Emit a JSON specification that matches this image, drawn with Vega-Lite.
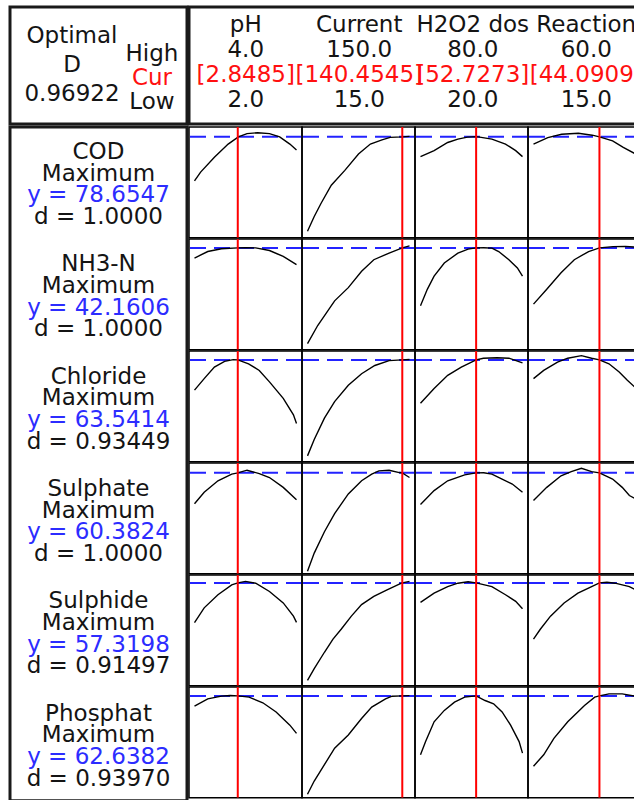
{
  "$schema": "https://vega.github.io/schema/vega-lite/v6.json",
  "background": "white",
  "padding": {"left": 8, "top": 5, "right": 0, "bottom": 0},
  "config": {"font": "DejaVu Sans", "view": {"stroke": "#000"}, "text": {"font": "DejaVu Sans", "fontSize": 23}},
  "datasets": {
    "hdrL": [
      {"col": "a", "line": 1, "text": "Optimal", "tone": "k"},
      {"col": "a", "line": 2, "text": "D", "tone": "k"},
      {"col": "a", "line": 3, "text": "0.96922", "tone": "k"},
      {"col": "b", "line": 1, "text": "High", "tone": "k"},
      {"col": "b", "line": 2, "text": "Cur", "tone": "r"},
      {"col": "b", "line": 3, "text": "Low", "tone": "k"}
    ],
    "hdr": [
      {"factor": "pH", "line": 1, "text": "pH", "tone": "k"},
      {"factor": "pH", "line": 2, "text": "4.0", "tone": "k"},
      {"factor": "pH", "line": 3, "text": "[2.8485]", "tone": "r"},
      {"factor": "pH", "line": 4, "text": "2.0", "tone": "k"},
      {"factor": "Current", "line": 1, "text": "Current", "tone": "k"},
      {"factor": "Current", "line": 2, "text": "150.0", "tone": "k"},
      {"factor": "Current", "line": 3, "text": "[140.4545]", "tone": "r"},
      {"factor": "Current", "line": 4, "text": "15.0", "tone": "k"},
      {"factor": "H2O2 dos", "line": 1, "text": "H2O2 dos", "tone": "k"},
      {"factor": "H2O2 dos", "line": 2, "text": "80.0", "tone": "k"},
      {"factor": "H2O2 dos", "line": 3, "text": "[52.7273]", "tone": "r"},
      {"factor": "H2O2 dos", "line": 4, "text": "20.0", "tone": "k"},
      {"factor": "Reaction", "line": 1, "text": "Reaction", "tone": "k"},
      {"factor": "Reaction", "line": 2, "text": "60.0", "tone": "k"},
      {"factor": "Reaction", "line": 3, "text": "[44.0909]", "tone": "r"},
      {"factor": "Reaction", "line": 4, "text": "15.0", "tone": "k"}
    ],
    "labels": [
      {"resp": "COD", "line": 1, "text": "COD", "tone": "k"},
      {"resp": "COD", "line": 2, "text": "Maximum", "tone": "k"},
      {"resp": "COD", "line": 3, "text": "y = 78.6547", "tone": "b"},
      {"resp": "COD", "line": 4, "text": "d = 1.0000", "tone": "k"},
      {"resp": "NH3-N", "line": 1, "text": "NH3-N", "tone": "k"},
      {"resp": "NH3-N", "line": 2, "text": "Maximum", "tone": "k"},
      {"resp": "NH3-N", "line": 3, "text": "y = 42.1606", "tone": "b"},
      {"resp": "NH3-N", "line": 4, "text": "d = 1.0000", "tone": "k"},
      {"resp": "Chloride", "line": 1, "text": "Chloride", "tone": "k"},
      {"resp": "Chloride", "line": 2, "text": "Maximum", "tone": "k"},
      {"resp": "Chloride", "line": 3, "text": "y = 63.5414", "tone": "b"},
      {"resp": "Chloride", "line": 4, "text": "d = 0.93449", "tone": "k"},
      {"resp": "Sulphate", "line": 1, "text": "Sulphate", "tone": "k"},
      {"resp": "Sulphate", "line": 2, "text": "Maximum", "tone": "k"},
      {"resp": "Sulphate", "line": 3, "text": "y = 60.3824", "tone": "b"},
      {"resp": "Sulphate", "line": 4, "text": "d = 1.0000", "tone": "k"},
      {"resp": "Sulphide", "line": 1, "text": "Sulphide", "tone": "k"},
      {"resp": "Sulphide", "line": 2, "text": "Maximum", "tone": "k"},
      {"resp": "Sulphide", "line": 3, "text": "y = 57.3198", "tone": "b"},
      {"resp": "Sulphide", "line": 4, "text": "d = 0.91497", "tone": "k"},
      {"resp": "Phosphat", "line": 1, "text": "Phosphat", "tone": "k"},
      {"resp": "Phosphat", "line": 2, "text": "Maximum", "tone": "k"},
      {"resp": "Phosphat", "line": 3, "text": "y = 62.6382", "tone": "b"},
      {"resp": "Phosphat", "line": 4, "text": "d = 0.93970", "tone": "k"}
    ],
    "curves": [
      {"r":"COD","f":"pH","k":"cur","x":2.8485,"y":78.6547},
      {"r":"COD","f":"Current","k":"cur","x":140.4545,"y":78.6547},
      {"r":"COD","f":"H2O2 dos","k":"cur","x":52.7273,"y":78.6547},
      {"r":"COD","f":"Reaction","k":"cur","x":44.0909,"y":78.6547},
      {"r":"NH3-N","f":"pH","k":"cur","x":2.8485,"y":42.1606},
      {"r":"NH3-N","f":"Current","k":"cur","x":140.4545,"y":42.1606},
      {"r":"NH3-N","f":"H2O2 dos","k":"cur","x":52.7273,"y":42.1606},
      {"r":"NH3-N","f":"Reaction","k":"cur","x":44.0909,"y":42.1606},
      {"r":"Chloride","f":"pH","k":"cur","x":2.8485,"y":63.5414},
      {"r":"Chloride","f":"Current","k":"cur","x":140.4545,"y":63.5414},
      {"r":"Chloride","f":"H2O2 dos","k":"cur","x":52.7273,"y":63.5414},
      {"r":"Chloride","f":"Reaction","k":"cur","x":44.0909,"y":63.5414},
      {"r":"Sulphate","f":"pH","k":"cur","x":2.8485,"y":60.3824},
      {"r":"Sulphate","f":"Current","k":"cur","x":140.4545,"y":60.3824},
      {"r":"Sulphate","f":"H2O2 dos","k":"cur","x":52.7273,"y":60.3824},
      {"r":"Sulphate","f":"Reaction","k":"cur","x":44.0909,"y":60.3824},
      {"r":"Sulphide","f":"pH","k":"cur","x":2.8485,"y":57.3198},
      {"r":"Sulphide","f":"Current","k":"cur","x":140.4545,"y":57.3198},
      {"r":"Sulphide","f":"H2O2 dos","k":"cur","x":52.7273,"y":57.3198},
      {"r":"Sulphide","f":"Reaction","k":"cur","x":44.0909,"y":57.3198},
      {"r":"Phosphat","f":"pH","k":"cur","x":2.8485,"y":62.6382},
      {"r":"Phosphat","f":"Current","k":"cur","x":140.4545,"y":62.6382},
      {"r":"Phosphat","f":"H2O2 dos","k":"cur","x":52.7273,"y":62.6382},
      {"r":"Phosphat","f":"Reaction","k":"cur","x":44.0909,"y":62.6382},

      {"r":"COD","f":"pH","k":"c","x":2.0,"y":60.77},
      {"r":"COD","f":"pH","k":"c","x":2.12,"y":64.37},
      {"r":"COD","f":"pH","k":"c","x":2.39,"y":70.37},
      {"r":"COD","f":"pH","k":"c","x":2.66,"y":75.73},
      {"r":"COD","f":"pH","k":"c","x":2.86,"y":78.65},
      {"r":"COD","f":"pH","k":"c","x":3.03,"y":79.97},
      {"r":"COD","f":"pH","k":"c","x":3.24,"y":80.33},
      {"r":"COD","f":"pH","k":"c","x":3.47,"y":79.97},
      {"r":"COD","f":"pH","k":"c","x":3.67,"y":78.65},
      {"r":"COD","f":"pH","k":"c","x":3.87,"y":75.73},
      {"r":"COD","f":"pH","k":"c","x":4.0,"y":73.33},
      {"r":"COD","f":"Current","k":"c","x":15,"y":40.37},
      {"r":"COD","f":"Current","k":"c","x":23.9,"y":46.37},
      {"r":"COD","f":"Current","k":"c","x":33,"y":51.73},
      {"r":"COD","f":"Current","k":"c","x":46.5,"y":59.05},
      {"r":"COD","f":"Current","k":"c","x":64.4,"y":65.05},
      {"r":"COD","f":"Current","k":"c","x":82.5,"y":71.73},
      {"r":"COD","f":"Current","k":"c","x":98.2,"y":75.73},
      {"r":"COD","f":"Current","k":"c","x":113.6,"y":77.45},
      {"r":"COD","f":"Current","k":"c","x":124.4,"y":78.45},
      {"r":"COD","f":"Current","k":"c","x":140.5,"y":78.65},
      {"r":"COD","f":"Current","k":"c","x":150,"y":78.85},
      {"r":"COD","f":"H2O2 dos","k":"c","x":20,"y":70.65},
      {"r":"COD","f":"H2O2 dos","k":"c","x":28,"y":73.05},
      {"r":"COD","f":"H2O2 dos","k":"c","x":36,"y":76.37},
      {"r":"COD","f":"H2O2 dos","k":"c","x":42,"y":77.73},
      {"r":"COD","f":"H2O2 dos","k":"c","x":47.6,"y":78.53},
      {"r":"COD","f":"H2O2 dos","k":"c","x":53,"y":78.73},
      {"r":"COD","f":"H2O2 dos","k":"c","x":62,"y":77.73},
      {"r":"COD","f":"H2O2 dos","k":"c","x":70,"y":75.73},
      {"r":"COD","f":"H2O2 dos","k":"c","x":76,"y":73.05},
      {"r":"COD","f":"H2O2 dos","k":"c","x":80,"y":70.65},
      {"r":"COD","f":"Reaction","k":"c","x":15,"y":75.73},
      {"r":"COD","f":"Reaction","k":"c","x":21.3,"y":78.37},
      {"r":"COD","f":"Reaction","k":"c","x":27.4,"y":79.73},
      {"r":"COD","f":"Reaction","k":"c","x":34.8,"y":80.13},
      {"r":"COD","f":"Reaction","k":"c","x":40.9,"y":79.33},
      {"r":"COD","f":"Reaction","k":"c","x":44.1,"y":78.65},
      {"r":"COD","f":"Reaction","k":"c","x":49.9,"y":77.05},
      {"r":"COD","f":"Reaction","k":"c","x":54.6,"y":74.37},
      {"r":"COD","f":"Reaction","k":"c","x":60,"y":71.73},

      {"r":"NH3-N","f":"pH","k":"c","x":2.0,"y":40.10},
      {"r":"NH3-N","f":"pH","k":"c","x":2.26,"y":41.42},
      {"r":"NH3-N","f":"pH","k":"c","x":2.53,"y":41.98},
      {"r":"NH3-N","f":"pH","k":"c","x":2.85,"y":42.16},
      {"r":"NH3-N","f":"pH","k":"c","x":3.0,"y":42.22},
      {"r":"NH3-N","f":"pH","k":"c","x":3.2,"y":42.16},
      {"r":"NH3-N","f":"pH","k":"c","x":3.47,"y":41.62},
      {"r":"NH3-N","f":"pH","k":"c","x":3.74,"y":40.42},
      {"r":"NH3-N","f":"pH","k":"c","x":4.0,"y":38.76},
      {"r":"NH3-N","f":"Current","k":"c","x":15,"y":22.76},
      {"r":"NH3-N","f":"Current","k":"c","x":28.5,"y":26.42},
      {"r":"NH3-N","f":"Current","k":"c","x":50.9,"y":31.42},
      {"r":"NH3-N","f":"Current","k":"c","x":69,"y":34.10},
      {"r":"NH3-N","f":"Current","k":"c","x":86.6,"y":37.42},
      {"r":"NH3-N","f":"Current","k":"c","x":102.75,"y":39.76},
      {"r":"NH3-N","f":"Current","k":"c","x":123,"y":41.10},
      {"r":"NH3-N","f":"Current","k":"c","x":140.45,"y":42.16},
      {"r":"NH3-N","f":"Current","k":"c","x":150,"y":42.56},
      {"r":"NH3-N","f":"H2O2 dos","k":"c","x":20,"y":30.42},
      {"r":"NH3-N","f":"H2O2 dos","k":"c","x":24,"y":33.76},
      {"r":"NH3-N","f":"H2O2 dos","k":"c","x":28,"y":36.42},
      {"r":"NH3-N","f":"H2O2 dos","k":"c","x":34,"y":39.10},
      {"r":"NH3-N","f":"H2O2 dos","k":"c","x":42,"y":41.10},
      {"r":"NH3-N","f":"H2O2 dos","k":"c","x":48,"y":41.90},
      {"r":"NH3-N","f":"H2O2 dos","k":"c","x":52.7,"y":42.16},
      {"r":"NH3-N","f":"H2O2 dos","k":"c","x":57.2,"y":42.20},
      {"r":"NH3-N","f":"H2O2 dos","k":"c","x":62,"y":42.10},
      {"r":"NH3-N","f":"H2O2 dos","k":"c","x":66,"y":41.42},
      {"r":"NH3-N","f":"H2O2 dos","k":"c","x":72,"y":39.76},
      {"r":"NH3-N","f":"H2O2 dos","k":"c","x":77,"y":38.10},
      {"r":"NH3-N","f":"H2O2 dos","k":"c","x":80,"y":36.42},
      {"r":"NH3-N","f":"Reaction","k":"c","x":15,"y":30.76},
      {"r":"NH3-N","f":"Reaction","k":"c","x":20.85,"y":33.76},
      {"r":"NH3-N","f":"Reaction","k":"c","x":27.15,"y":37.10},
      {"r":"NH3-N","f":"Reaction","k":"c","x":33,"y":39.76},
      {"r":"NH3-N","f":"Reaction","k":"c","x":39.3,"y":41.42},
      {"r":"NH3-N","f":"Reaction","k":"c","x":44.09,"y":42.16},
      {"r":"NH3-N","f":"Reaction","k":"c","x":50.1,"y":42.42},
      {"r":"NH3-N","f":"Reaction","k":"c","x":55.5,"y":42.46},
      {"r":"NH3-N","f":"Reaction","k":"c","x":60,"y":42.30},

      {"r":"Chloride","f":"pH","k":"c","x":2.0,"y":54.33},
      {"r":"Chloride","f":"pH","k":"c","x":2.19,"y":57.84},
      {"r":"Chloride","f":"pH","k":"c","x":2.39,"y":61.35},
      {"r":"Chloride","f":"pH","k":"c","x":2.59,"y":63.09},
      {"r":"Chloride","f":"pH","k":"c","x":2.76,"y":63.60},
      {"r":"Chloride","f":"pH","k":"c","x":2.85,"y":63.54},
      {"r":"Chloride","f":"pH","k":"c","x":3.06,"y":62.34},
      {"r":"Chloride","f":"pH","k":"c","x":3.27,"y":60.33},
      {"r":"Chloride","f":"pH","k":"c","x":3.47,"y":56.85},
      {"r":"Chloride","f":"pH","k":"c","x":3.74,"y":51.84},
      {"r":"Chloride","f":"pH","k":"c","x":3.94,"y":46.83},
      {"r":"Chloride","f":"pH","k":"c","x":4.0,"y":44.2},
      {"r":"Chloride","f":"Current","k":"c","x":15,"y":34.35},
      {"r":"Chloride","f":"Current","k":"c","x":23.9,"y":39.33},
      {"r":"Chloride","f":"Current","k":"c","x":37.4,"y":45.84},
      {"r":"Chloride","f":"Current","k":"c","x":50.9,"y":50.85},
      {"r":"Chloride","f":"Current","k":"c","x":69,"y":55.83},
      {"r":"Chloride","f":"Current","k":"c","x":86.6,"y":59.34},
      {"r":"Chloride","f":"Current","k":"c","x":104.1,"y":61.83},
      {"r":"Chloride","f":"Current","k":"c","x":123,"y":63.33},
      {"r":"Chloride","f":"Current","k":"c","x":140.45,"y":63.54},
      {"r":"Chloride","f":"Current","k":"c","x":150,"y":63.66},
      {"r":"Chloride","f":"H2O2 dos","k":"c","x":20,"y":50.34},
      {"r":"Chloride","f":"H2O2 dos","k":"c","x":28,"y":54.84},
      {"r":"Chloride","f":"H2O2 dos","k":"c","x":36,"y":58.83},
      {"r":"Chloride","f":"H2O2 dos","k":"c","x":44,"y":61.35},
      {"r":"Chloride","f":"H2O2 dos","k":"c","x":52.7,"y":63.54},
      {"r":"Chloride","f":"H2O2 dos","k":"c","x":57,"y":64.05},
      {"r":"Chloride","f":"H2O2 dos","k":"c","x":65,"y":64.20},
      {"r":"Chloride","f":"H2O2 dos","k":"c","x":72,"y":64.05},
      {"r":"Chloride","f":"H2O2 dos","k":"c","x":80,"y":62.64},
      {"r":"Chloride","f":"Reaction","k":"c","x":15,"y":57.84},
      {"r":"Chloride","f":"Reaction","k":"c","x":19.5,"y":60.33},
      {"r":"Chloride","f":"Reaction","k":"c","x":25.6,"y":62.85},
      {"r":"Chloride","f":"Reaction","k":"c","x":30.1,"y":64.05},
      {"r":"Chloride","f":"Reaction","k":"c","x":36.15,"y":64.83},
      {"r":"Chloride","f":"Reaction","k":"c","x":40.65,"y":64.05},
      {"r":"Chloride","f":"Reaction","k":"c","x":44.09,"y":63.54},
      {"r":"Chloride","f":"Reaction","k":"c","x":48.3,"y":62.34},
      {"r":"Chloride","f":"Reaction","k":"c","x":52.8,"y":59.85},
      {"r":"Chloride","f":"Reaction","k":"c","x":56.4,"y":57.33},
      {"r":"Chloride","f":"Reaction","k":"c","x":60,"y":55.05},

      {"r":"Sulphate","f":"pH","k":"c","x":2.0,"y":50.99},
      {"r":"Sulphate","f":"pH","k":"c","x":2.19,"y":54.47},
      {"r":"Sulphate","f":"pH","k":"c","x":2.46,"y":57.98},
      {"r":"Sulphate","f":"pH","k":"c","x":2.73,"y":59.99},
      {"r":"Sulphate","f":"pH","k":"c","x":2.85,"y":60.38},
      {"r":"Sulphate","f":"pH","k":"c","x":3.03,"y":61.19},
      {"r":"Sulphate","f":"pH","k":"c","x":3.27,"y":60.17},
      {"r":"Sulphate","f":"pH","k":"c","x":3.47,"y":58.97},
      {"r":"Sulphate","f":"pH","k":"c","x":3.74,"y":55.97},
      {"r":"Sulphate","f":"pH","k":"c","x":4.0,"y":52.19},
      {"r":"Sulphate","f":"Current","k":"c","x":15,"y":30.47},
      {"r":"Sulphate","f":"Current","k":"c","x":23.9,"y":35.99},
      {"r":"Sulphate","f":"Current","k":"c","x":37.4,"y":42.47},
      {"r":"Sulphate","f":"Current","k":"c","x":50.9,"y":47.99},
      {"r":"Sulphate","f":"Current","k":"c","x":69,"y":53.99},
      {"r":"Sulphate","f":"Current","k":"c","x":86.6,"y":57.98},
      {"r":"Sulphate","f":"Current","k":"c","x":100,"y":59.99},
      {"r":"Sulphate","f":"Current","k":"c","x":109.5,"y":60.98},
      {"r":"Sulphate","f":"Current","k":"c","x":123,"y":61.19},
      {"r":"Sulphate","f":"Current","k":"c","x":136.5,"y":60.47},
      {"r":"Sulphate","f":"Current","k":"c","x":140.45,"y":60.38},
      {"r":"Sulphate","f":"Current","k":"c","x":150,"y":58.97},
      {"r":"Sulphate","f":"H2O2 dos","k":"c","x":20,"y":50.78},
      {"r":"Sulphate","f":"H2O2 dos","k":"c","x":28,"y":54.98},
      {"r":"Sulphate","f":"H2O2 dos","k":"c","x":36,"y":57.98},
      {"r":"Sulphate","f":"H2O2 dos","k":"c","x":46,"y":59.78},
      {"r":"Sulphate","f":"H2O2 dos","k":"c","x":52.7,"y":60.38},
      {"r":"Sulphate","f":"H2O2 dos","k":"c","x":57.2,"y":60.40},
      {"r":"Sulphate","f":"H2O2 dos","k":"c","x":62,"y":59.99},
      {"r":"Sulphate","f":"H2O2 dos","k":"c","x":68,"y":58.49},
      {"r":"Sulphate","f":"H2O2 dos","k":"c","x":74,"y":56.99},
      {"r":"Sulphate","f":"H2O2 dos","k":"c","x":80,"y":54.47},
      {"r":"Sulphate","f":"Reaction","k":"c","x":15,"y":51.98},
      {"r":"Sulphate","f":"Reaction","k":"c","x":20.85,"y":55.97},
      {"r":"Sulphate","f":"Reaction","k":"c","x":27.15,"y":59.48},
      {"r":"Sulphate","f":"Reaction","k":"c","x":31.65,"y":60.77},
      {"r":"Sulphate","f":"Reaction","k":"c","x":36.15,"y":61.79},
      {"r":"Sulphate","f":"Reaction","k":"c","x":40.65,"y":60.77},
      {"r":"Sulphate","f":"Reaction","k":"c","x":44.09,"y":60.38},
      {"r":"Sulphate","f":"Reaction","k":"c","x":49.9,"y":58.49},
      {"r":"Sulphate","f":"Reaction","k":"c","x":54.15,"y":55.97},
      {"r":"Sulphate","f":"Reaction","k":"c","x":57.3,"y":53.48},
      {"r":"Sulphate","f":"Reaction","k":"c","x":60,"y":52.49},

      {"r":"Sulphide","f":"pH","k":"c","x":2.0,"y":45.23},
      {"r":"Sulphide","f":"pH","k":"c","x":2.19,"y":49.73},
      {"r":"Sulphide","f":"pH","k":"c","x":2.46,"y":53.72},
      {"r":"Sulphide","f":"pH","k":"c","x":2.73,"y":56.72},
      {"r":"Sulphide","f":"pH","k":"c","x":2.85,"y":57.32},
      {"r":"Sulphide","f":"pH","k":"c","x":3.0,"y":57.77},
      {"r":"Sulphide","f":"pH","k":"c","x":3.2,"y":57.23},
      {"r":"Sulphide","f":"pH","k":"c","x":3.47,"y":54.71},
      {"r":"Sulphide","f":"pH","k":"c","x":3.74,"y":51.23},
      {"r":"Sulphide","f":"pH","k":"c","x":3.94,"y":47.21},
      {"r":"Sulphide","f":"pH","k":"c","x":4.0,"y":45.32},
      {"r":"Sulphide","f":"Current","k":"c","x":15,"y":27.71},
      {"r":"Sulphide","f":"Current","k":"c","x":23.9,"y":31.22},
      {"r":"Sulphide","f":"Current","k":"c","x":37.4,"y":36.23},
      {"r":"Sulphide","f":"Current","k":"c","x":48.75,"y":40.22},
      {"r":"Sulphide","f":"Current","k":"c","x":59.55,"y":43.22},
      {"r":"Sulphide","f":"Current","k":"c","x":73.05,"y":47.21},
      {"r":"Sulphide","f":"Current","k":"c","x":86.55,"y":50.72},
      {"r":"Sulphide","f":"Current","k":"c","x":102.75,"y":53.21},
      {"r":"Sulphide","f":"Current","k":"c","x":120.3,"y":55.22},
      {"r":"Sulphide","f":"Current","k":"c","x":136.5,"y":56.96},
      {"r":"Sulphide","f":"Current","k":"c","x":140.45,"y":57.32},
      {"r":"Sulphide","f":"Current","k":"c","x":150,"y":57.77},
      {"r":"Sulphide","f":"H2O2 dos","k":"c","x":20,"y":51.41},
      {"r":"Sulphide","f":"H2O2 dos","k":"c","x":28,"y":54.23},
      {"r":"Sulphide","f":"H2O2 dos","k":"c","x":36,"y":56.21},
      {"r":"Sulphide","f":"H2O2 dos","k":"c","x":42,"y":57.23},
      {"r":"Sulphide","f":"H2O2 dos","k":"c","x":48,"y":57.65},
      {"r":"Sulphide","f":"H2O2 dos","k":"c","x":52.7,"y":57.32},
      {"r":"Sulphide","f":"H2O2 dos","k":"c","x":62,"y":56.21},
      {"r":"Sulphide","f":"H2O2 dos","k":"c","x":70,"y":53.72},
      {"r":"Sulphide","f":"H2O2 dos","k":"c","x":76,"y":51.71},
      {"r":"Sulphide","f":"H2O2 dos","k":"c","x":80,"y":49.43},
      {"r":"Sulphide","f":"Reaction","k":"c","x":15,"y":40.22},
      {"r":"Sulphide","f":"Reaction","k":"c","x":18,"y":43.22},
      {"r":"Sulphide","f":"Reaction","k":"c","x":22.5,"y":47.21},
      {"r":"Sulphide","f":"Reaction","k":"c","x":28.5,"y":51.23},
      {"r":"Sulphide","f":"Reaction","k":"c","x":34.6,"y":54.23},
      {"r":"Sulphide","f":"Reaction","k":"c","x":40.65,"y":56.21},
      {"r":"Sulphide","f":"Reaction","k":"c","x":44.09,"y":57.32},
      {"r":"Sulphide","f":"Reaction","k":"c","x":47.4,"y":57.53},
      {"r":"Sulphide","f":"Reaction","k":"c","x":51,"y":57.23},
      {"r":"Sulphide","f":"Reaction","k":"c","x":57.3,"y":56.21},
      {"r":"Sulphide","f":"Reaction","k":"c","x":60,"y":55.22},

      {"r":"Phosphat","f":"pH","k":"c","x":2.0,"y":59.55},
      {"r":"Phosphat","f":"pH","k":"c","x":2.26,"y":61.74},
      {"r":"Phosphat","f":"pH","k":"c","x":2.53,"y":62.55},
      {"r":"Phosphat","f":"pH","k":"c","x":2.7,"y":62.76},
      {"r":"Phosphat","f":"pH","k":"c","x":2.85,"y":62.64},
      {"r":"Phosphat","f":"pH","k":"c","x":3.07,"y":62.25},
      {"r":"Phosphat","f":"pH","k":"c","x":3.34,"y":60.54},
      {"r":"Phosphat","f":"pH","k":"c","x":3.6,"y":57.75},
      {"r":"Phosphat","f":"pH","k":"c","x":3.87,"y":53.73},
      {"r":"Phosphat","f":"pH","k":"c","x":4.0,"y":51.24},
      {"r":"Phosphat","f":"Current","k":"c","x":15,"y":32.73},
      {"r":"Phosphat","f":"Current","k":"c","x":23.9,"y":36.75},
      {"r":"Phosphat","f":"Current","k":"c","x":37.4,"y":41.73},
      {"r":"Phosphat","f":"Current","k":"c","x":50.9,"y":46.74},
      {"r":"Phosphat","f":"Current","k":"c","x":69,"y":50.73},
      {"r":"Phosphat","f":"Current","k":"c","x":86.55,"y":55.74},
      {"r":"Phosphat","f":"Current","k":"c","x":100,"y":59.25},
      {"r":"Phosphat","f":"Current","k":"c","x":118.3,"y":61.74},
      {"r":"Phosphat","f":"Current","k":"c","x":127,"y":62.55},
      {"r":"Phosphat","f":"Current","k":"c","x":140.45,"y":62.64},
      {"r":"Phosphat","f":"Current","k":"c","x":150,"y":62.73},
      {"r":"Phosphat","f":"H2O2 dos","k":"c","x":20,"y":44.73},
      {"r":"Phosphat","f":"H2O2 dos","k":"c","x":23,"y":48.75},
      {"r":"Phosphat","f":"H2O2 dos","k":"c","x":28,"y":54.75},
      {"r":"Phosphat","f":"H2O2 dos","k":"c","x":34,"y":58.23},
      {"r":"Phosphat","f":"H2O2 dos","k":"c","x":40,"y":60.75},
      {"r":"Phosphat","f":"H2O2 dos","k":"c","x":46,"y":62.25},
      {"r":"Phosphat","f":"H2O2 dos","k":"c","x":52.7,"y":62.64},
      {"r":"Phosphat","f":"H2O2 dos","k":"c","x":58,"y":61.23},
      {"r":"Phosphat","f":"H2O2 dos","k":"c","x":63,"y":60.24},
      {"r":"Phosphat","f":"H2O2 dos","k":"c","x":68,"y":57.75},
      {"r":"Phosphat","f":"H2O2 dos","k":"c","x":73,"y":53.73},
      {"r":"Phosphat","f":"H2O2 dos","k":"c","x":78,"y":48.75},
      {"r":"Phosphat","f":"H2O2 dos","k":"c","x":80,"y":45.24},
      {"r":"Phosphat","f":"Reaction","k":"c","x":15,"y":41.25},
      {"r":"Phosphat","f":"Reaction","k":"c","x":19.5,"y":44.73},
      {"r":"Phosphat","f":"Reaction","k":"c","x":24,"y":49.74},
      {"r":"Phosphat","f":"Reaction","k":"c","x":30.1,"y":54.75},
      {"r":"Phosphat","f":"Reaction","k":"c","x":37.5,"y":59.73},
      {"r":"Phosphat","f":"Reaction","k":"c","x":42,"y":62.25},
      {"r":"Phosphat","f":"Reaction","k":"c","x":44.09,"y":62.64},
      {"r":"Phosphat","f":"Reaction","k":"c","x":48.3,"y":63.24},
      {"r":"Phosphat","f":"Reaction","k":"c","x":54.15,"y":63.24},
      {"r":"Phosphat","f":"Reaction","k":"c","x":60,"y":62.55}
    ]
  },
  "spacing": -1,
  "vconcat": [
    {
      "spacing": -2,
      "hconcat": [
        {
          "width": 177, "height": 117,
          "view": {"stroke": "#1a1a1a", "strokeWidth": 3},
          "data": {"name": "hdrL"},
          "layer": [
            {
              "transform": [{"filter": "datum.col === 'a'"}],
              "mark": {"type": "text", "baseline": "middle", "align": "center", "fontSize": 23},
              "encoding": {
                "x": {"field": "col", "type": "nominal", "axis": null, "scale": {"type": "point", "domain": ["a", "b"], "range": [62, 142], "padding": 0}},
                "y": {"field": "line", "type": "ordinal", "axis": null, "scale": {"type": "point", "domain": [1, 2, 3], "range": [29, 86.5], "padding": 0}},
                "text": {"field": "text"},
                "color": {"field": "tone", "type": "nominal", "legend": null, "scale": {"domain": ["k", "r", "b"], "range": ["#141414", "#ff1010", "#2c2cff"]}}
              }
            },
            {
              "transform": [{"filter": "datum.col === 'b'"}],
              "mark": {"type": "text", "baseline": "middle", "align": "center", "fontSize": 23},
              "encoding": {
                "x": {"field": "col", "type": "nominal", "axis": null, "scale": {"type": "point", "domain": ["a", "b"], "range": [62, 142], "padding": 0}},
                "y": {"field": "line", "type": "ordinal", "axis": null, "scale": {"type": "point", "domain": [1, 2, 3], "range": [46.5, 95], "padding": 0}},
                "text": {"field": "text"},
                "color": {"field": "tone", "type": "nominal", "legend": null, "scale": {"domain": ["k", "r", "b"], "range": ["#141414", "#ff1010", "#2c2cff"]}}
              }
            }
          ],
          "resolve": {"scale": {"y": "independent"}}
        },
        {
          "width": 454, "height": 117,
          "view": {"stroke": "#1a1a1a", "strokeWidth": 3},
          "data": {"name": "hdr"},
          "mark": {"type": "text", "baseline": "middle", "align": "center", "fontSize": 23},
          "encoding": {
            "x": {"field": "factor", "type": "nominal", "axis": null, "sort": ["pH", "Current", "H2O2 dos", "Reaction"], "scale": {"type": "band", "paddingInner": 0, "paddingOuter": 0}},
            "y": {"field": "line", "type": "ordinal", "axis": null, "scale": {"type": "point", "domain": [1, 2, 3, 4], "range": [18, 93], "padding": 0}},
            "text": {"field": "text"},
            "color": {"field": "tone", "type": "nominal", "legend": null, "scale": {"domain": ["k", "r", "b"], "range": ["#141414", "#ff1010", "#2c2cff"]}}
          }
        }
      ]
    },
    {
      "spacing": -4,
      "hconcat": [
        {
          "width": 177, "height": 673.8,
          "view": {"stroke": "#1a1a1a", "strokeWidth": 3},
          "data": {"name": "labels"},
          "mark": {"type": "text", "baseline": "middle", "align": "center", "fontSize": 23},
          "encoding": {
            "y": {"field": "resp", "type": "nominal", "axis": null, "sort": ["COD", "NH3-N", "Chloride", "Sulphate", "Sulphide", "Phosphat"], "scale": {"type": "band", "paddingInner": 0, "paddingOuter": 0}},
            "yOffset": {"field": "line", "type": "ordinal", "scale": {"type": "point", "domain": [1, 2, 3, 4], "range": [25, 90], "padding": 0}},
            "text": {"field": "text"},
            "color": {"field": "tone", "type": "nominal", "legend": null, "scale": {"domain": ["k", "r", "b"], "range": ["#141414", "#ff1010", "#2c2cff"]}}
          }
        },
        {
          "spacing": -4.1,
          "vconcat": [
            {
              "data": {"name": "curves"},
              "transform": [{"filter": "datum.r === 'COD'"}],
              "spacing": 0, "bounds": "flush",
              "facet": {"column": {"field": "f", "type": "nominal", "sort": ["pH", "Current", "H2O2 dos", "Reaction"], "title": null, "header": {"labels": false, "title": null}}},
              "resolve": {"scale": {"x": "independent"}},
              "spec": {
                "width": 113, "height": 110.8,
                "view": {"stroke": "#000", "strokeWidth": 1.5},
                "layer": [
                  {"transform": [{"filter": "datum.k === 'cur'"}], "mark": {"type": "rule", "color": "#2323ff", "strokeWidth": 2, "strokeDash": [16, 8], "clip": true},
                   "encoding": {"y": {"field": "y", "type": "quantitative", "axis": null, "scale": {"domain": [37.73, 82.65], "nice": false, "zero": false}}}},
                  {"transform": [{"filter": "datum.k === 'c'"}], "mark": {"type": "line", "color": "#000", "strokeWidth": 1.4, "clip": true},
                   "encoding": {"x": {"field": "x", "type": "quantitative", "axis": null, "scale": {"zero": false, "nice": false, "padding": 5.5}},
                                "y": {"field": "y", "type": "quantitative", "axis": null, "scale": {"domain": [37.73, 82.65], "nice": false, "zero": false}}}},
                  {"transform": [{"filter": "datum.k === 'cur'"}], "mark": {"type": "rule", "color": "#ff0000", "strokeWidth": 2, "clip": true},
                   "encoding": {"x": {"field": "x", "type": "quantitative", "axis": null, "scale": {"zero": false, "nice": false, "padding": 5.5}}}}
                ]
              }
            },
            {
              "data": {"name": "curves"},
              "transform": [{"filter": "datum.r === 'NH3-N'"}],
              "spacing": 0, "bounds": "flush",
              "facet": {"column": {"field": "f", "type": "nominal", "sort": ["pH", "Current", "H2O2 dos", "Reaction"], "title": null, "header": {"labels": false, "title": null}}},
              "resolve": {"scale": {"x": "independent"}},
              "spec": {
                "width": 113, "height": 110.8,
                "view": {"stroke": "#000", "strokeWidth": 1.5},
                "layer": [
                  {"transform": [{"filter": "datum.k === 'cur'"}], "mark": {"type": "rule", "color": "#2323ff", "strokeWidth": 2, "strokeDash": [16, 8], "clip": true},
                   "encoding": {"y": {"field": "y", "type": "quantitative", "axis": null, "scale": {"domain": [21.5, 43.96], "nice": false, "zero": false}}}},
                  {"transform": [{"filter": "datum.k === 'c'"}], "mark": {"type": "line", "color": "#000", "strokeWidth": 1.4, "clip": true},
                   "encoding": {"x": {"field": "x", "type": "quantitative", "axis": null, "scale": {"zero": false, "nice": false, "padding": 5.5}},
                                "y": {"field": "y", "type": "quantitative", "axis": null, "scale": {"domain": [21.5, 43.96], "nice": false, "zero": false}}}},
                  {"transform": [{"filter": "datum.k === 'cur'"}], "mark": {"type": "rule", "color": "#ff0000", "strokeWidth": 2, "clip": true},
                   "encoding": {"x": {"field": "x", "type": "quantitative", "axis": null, "scale": {"zero": false, "nice": false, "padding": 5.5}}}}
                ]
              }
            },
            {
              "data": {"name": "curves"},
              "transform": [{"filter": "datum.r === 'Chloride'"}],
              "spacing": 0, "bounds": "flush",
              "facet": {"column": {"field": "f", "type": "nominal", "sort": ["pH", "Current", "H2O2 dos", "Reaction"], "title": null, "header": {"labels": false, "title": null}}},
              "resolve": {"scale": {"x": "independent"}},
              "spec": {
                "width": 113, "height": 110.8,
                "view": {"stroke": "#000", "strokeWidth": 1.5},
                "layer": [
                  {"transform": [{"filter": "datum.k === 'cur'"}], "mark": {"type": "rule", "color": "#2323ff", "strokeWidth": 2, "strokeDash": [16, 8], "clip": true},
                   "encoding": {"y": {"field": "y", "type": "quantitative", "axis": null, "scale": {"domain": [32.55, 66.24], "nice": false, "zero": false}}}},
                  {"transform": [{"filter": "datum.k === 'c'"}], "mark": {"type": "line", "color": "#000", "strokeWidth": 1.4, "clip": true},
                   "encoding": {"x": {"field": "x", "type": "quantitative", "axis": null, "scale": {"zero": false, "nice": false, "padding": 5.5}},
                                "y": {"field": "y", "type": "quantitative", "axis": null, "scale": {"domain": [32.55, 66.24], "nice": false, "zero": false}}}},
                  {"transform": [{"filter": "datum.k === 'cur'"}], "mark": {"type": "rule", "color": "#ff0000", "strokeWidth": 2, "clip": true},
                   "encoding": {"x": {"field": "x", "type": "quantitative", "axis": null, "scale": {"zero": false, "nice": false, "padding": 5.5}}}}
                ]
              }
            },
            {
              "data": {"name": "curves"},
              "transform": [{"filter": "datum.r === 'Sulphate'"}],
              "spacing": 0, "bounds": "flush",
              "facet": {"column": {"field": "f", "type": "nominal", "sort": ["pH", "Current", "H2O2 dos", "Reaction"], "title": null, "header": {"labels": false, "title": null}}},
              "resolve": {"scale": {"x": "independent"}},
              "spec": {
                "width": 113, "height": 110.8,
                "view": {"stroke": "#000", "strokeWidth": 1.5},
                "layer": [
                  {"transform": [{"filter": "datum.k === 'cur'"}], "mark": {"type": "rule", "color": "#2323ff", "strokeWidth": 2, "strokeDash": [16, 8], "clip": true},
                   "encoding": {"y": {"field": "y", "type": "quantitative", "axis": null, "scale": {"domain": [29.69, 63.38], "nice": false, "zero": false}}}},
                  {"transform": [{"filter": "datum.k === 'c'"}], "mark": {"type": "line", "color": "#000", "strokeWidth": 1.4, "clip": true},
                   "encoding": {"x": {"field": "x", "type": "quantitative", "axis": null, "scale": {"zero": false, "nice": false, "padding": 5.5}},
                                "y": {"field": "y", "type": "quantitative", "axis": null, "scale": {"domain": [29.69, 63.38], "nice": false, "zero": false}}}},
                  {"transform": [{"filter": "datum.k === 'cur'"}], "mark": {"type": "rule", "color": "#ff0000", "strokeWidth": 2, "clip": true},
                   "encoding": {"x": {"field": "x", "type": "quantitative", "axis": null, "scale": {"zero": false, "nice": false, "padding": 5.5}}}}
                ]
              }
            },
            {
              "data": {"name": "curves"},
              "transform": [{"filter": "datum.r === 'Sulphide'"}],
              "spacing": 0, "bounds": "flush",
              "facet": {"column": {"field": "f", "type": "nominal", "sort": ["pH", "Current", "H2O2 dos", "Reaction"], "title": null, "header": {"labels": false, "title": null}}},
              "resolve": {"scale": {"x": "independent"}},
              "spec": {
                "width": 113, "height": 110.8,
                "view": {"stroke": "#000", "strokeWidth": 1.5},
                "layer": [
                  {"transform": [{"filter": "datum.k === 'cur'"}], "mark": {"type": "rule", "color": "#2323ff", "strokeWidth": 2, "strokeDash": [16, 8], "clip": true},
                   "encoding": {"y": {"field": "y", "type": "quantitative", "axis": null, "scale": {"domain": [26.03, 59.72], "nice": false, "zero": false}}}},
                  {"transform": [{"filter": "datum.k === 'c'"}], "mark": {"type": "line", "color": "#000", "strokeWidth": 1.4, "clip": true},
                   "encoding": {"x": {"field": "x", "type": "quantitative", "axis": null, "scale": {"zero": false, "nice": false, "padding": 5.5}},
                                "y": {"field": "y", "type": "quantitative", "axis": null, "scale": {"domain": [26.03, 59.72], "nice": false, "zero": false}}}},
                  {"transform": [{"filter": "datum.k === 'cur'"}], "mark": {"type": "rule", "color": "#ff0000", "strokeWidth": 2, "clip": true},
                   "encoding": {"x": {"field": "x", "type": "quantitative", "axis": null, "scale": {"zero": false, "nice": false, "padding": 5.5}}}}
                ]
              }
            },
            {
              "data": {"name": "curves"},
              "transform": [{"filter": "datum.r === 'Phosphat'"}],
              "spacing": 0, "bounds": "flush",
              "facet": {"column": {"field": "f", "type": "nominal", "sort": ["pH", "Current", "H2O2 dos", "Reaction"], "title": null, "header": {"labels": false, "title": null}}},
              "resolve": {"scale": {"x": "independent"}},
              "spec": {
                "width": 113, "height": 110.8,
                "view": {"stroke": "#000", "strokeWidth": 1.5},
                "layer": [
                  {"transform": [{"filter": "datum.k === 'cur'"}], "mark": {"type": "rule", "color": "#2323ff", "strokeWidth": 2, "strokeDash": [16, 8], "clip": true},
                   "encoding": {"y": {"field": "y", "type": "quantitative", "axis": null, "scale": {"domain": [31.65, 65.34], "nice": false, "zero": false}}}},
                  {"transform": [{"filter": "datum.k === 'c'"}], "mark": {"type": "line", "color": "#000", "strokeWidth": 1.4, "clip": true},
                   "encoding": {"x": {"field": "x", "type": "quantitative", "axis": null, "scale": {"zero": false, "nice": false, "padding": 5.5}},
                                "y": {"field": "y", "type": "quantitative", "axis": null, "scale": {"domain": [31.65, 65.34], "nice": false, "zero": false}}}},
                  {"transform": [{"filter": "datum.k === 'cur'"}], "mark": {"type": "rule", "color": "#ff0000", "strokeWidth": 2, "clip": true},
                   "encoding": {"x": {"field": "x", "type": "quantitative", "axis": null, "scale": {"zero": false, "nice": false, "padding": 5.5}}}}
                ]
              }
            }
          ]
        }
      ]
    }
  ]
}
